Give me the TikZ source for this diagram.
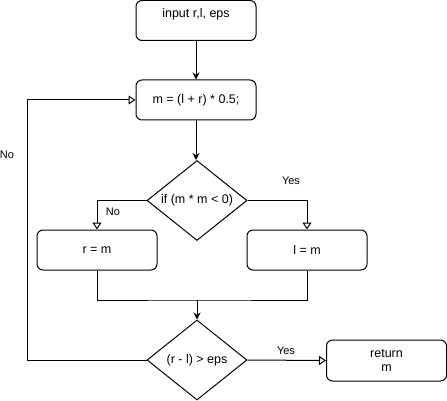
\documentclass[tikz,border=0pt]{standalone}
\usepackage{fontspec}
\setmainfont{Liberation Sans}
\usetikzlibrary{arrows.meta,shapes.geometric}
\begin{document}
\begin{tikzpicture}[x=1pt,y=-1pt,
  every node/.style={font=\fontsize{12.5}{14.5}\selectfont},
  procbox/.style={draw,line width=1pt,rounded corners=6pt,minimum width=120pt,minimum height=40pt,inner sep=0pt},
  decision/.style={draw,line width=1pt,diamond,minimum width=100pt,minimum height=80pt,inner sep=0pt,aspect=1.25},
  flow/.style={line width=1pt,-{Stealth[length=7pt,width=7pt]}},
  openflow/.style={line width=1pt,-{Triangle[open,length=7pt,width=9pt,fill=white]}},
  plainline/.style={line width=1pt},
  lbl/.style={font=\fontsize{11}{13}\selectfont,inner sep=0pt}]
\useasboundingbox (0,0) rectangle (447,401);

% process boxes
\node[procbox] (inp) at (196,20.5) {};
\node at (196,14) {input r,l, eps};
\node[procbox] (mid) at (196,100) {m = (l + r) * 0.5;};
\node[procbox] (rm) at (97,250) {r = m};
\node[procbox] (lm) at (307,250) {l = m};
\node[procbox,minimum width=120pt,minimum height=41pt,align=center] (ret) at (386.5,360.5) {return\\m};

% decisions
\node[decision] (d1) at (197,200.5) {if (m * m < 0)};
\node[decision] (d2) at (197,360) {(r - l) > eps};

% helper points
\coordinate (join) at (197,300);
\coordinate (loopL) at (27,360);
\coordinate (loopT) at (27,100);

% connectors
\draw[flow] (inp.south) -- (mid.north);
\draw[flow] (mid.south) -- (mid.south |- d1.north);
\draw[openflow] (d1.west) -| (rm.north);
\draw[openflow] (d1.east) -| (lm.north);
\draw[plainline] (rm.south) |- (join) -| (lm.south);
\draw[flow] (join) -- (d2.north);
\draw[openflow] (d2.east) -- (ret.west);
\draw[openflow] (d2.west) -- (loopL) -- (loopT) -- (mid.west);

% labels
\node[lbl] (lno1) at (113,212) {No};
\node[lbl] (lyes1) at (291,181) {Yes};
\node[lbl] (lyes2) at (286,351) {Yes};
\node[lbl] (lno2) at (7,155) {No};
\end{tikzpicture}
\end{document}
